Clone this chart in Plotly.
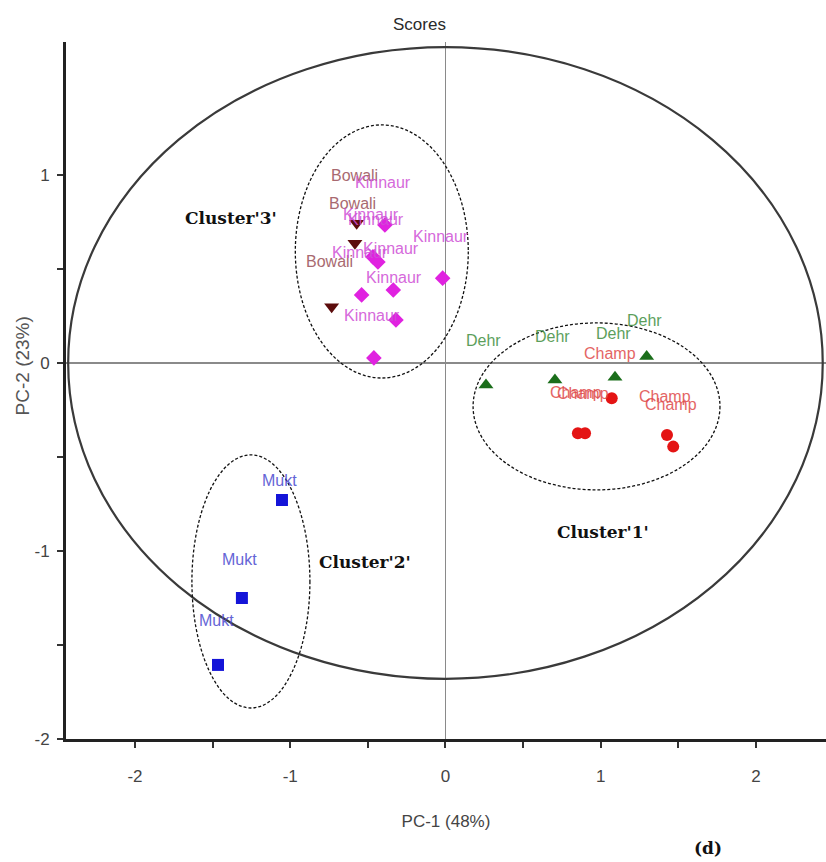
import plotly.graph_objects as go

# PCA score values (PC-1, PC-2) for each accession group
mukt_x = [-1.053, -1.311, -1.465]
mukt_y = [-0.729, -1.250, -1.606]

bowali_x = [-0.572, -0.583, -0.733]
bowali_y = [0.743, 0.637, 0.299]

kinnaur_x = [-0.390, -0.467, -0.435, -0.018, -0.540, -0.336, -0.319, -0.461]
kinnaur_y = [0.734, 0.564, 0.537, 0.451, 0.362, 0.388, 0.229, 0.027]

dehr_x = [0.261, 0.705, 1.092, 1.296]
dehr_y = [-0.117, -0.090, -0.076, 0.034]

champ_x = [1.071, 0.853, 0.899, 1.427, 1.467]
champ_y = [-0.188, -0.374, -0.374, -0.383, -0.445]

# Hotelling T2 ellipse and cluster outlines: centre and semi-axes in score units
hotelling_center = (0.0, 0.0)
hotelling_radii = (2.43, 1.68)
cluster_names = ["Cluster'1'", "Cluster'2'", "Cluster'3'"]
cluster_cx = [0.973, -1.253, -0.410]
cluster_cy = [-0.231, -1.162, 0.593]
cluster_rx = [0.795, 0.380, 0.557]
cluster_ry = [0.444, 0.673, 0.673]
# cluster caption anchors in score units
cluster_tx = [1.015, -0.52, -1.38]
cluster_ty = [-0.898, -1.059, 0.77]

x_ticks = [-2, -1.5, -1, -0.5, 0, 0.5, 1, 1.5, 2]
y_ticks = [-2, -1.5, -1, -0.5, 0, 0.5, 1]

# name, x, y, symbol, marker colour, label colour, marker size, label shift (px)
groups = [
    ("Mukt", mukt_x, mukt_y, "square", "#1414d8", "#4a4ad0", 12, [20, 38, 44]),
    ("Bowali", bowali_x, bowali_y, "triangle-down", "#5c0c0c", "#9a5058", 13, [48, 40, 45]),
    ("Kinnaur", kinnaur_x, kinnaur_y, "diamond", "#e022e0", "#cf4fd6", 12, [42] * 8),
    ("Dehr", dehr_x, dehr_y, "triangle-up", "#1b6e1b", "#3f8f3f", 13, [44, 43, 44, 36]),
    ("Champ", champ_x, champ_y, "circle", "#e41414", "#e04a4a", 12, [45, 41, 40, 38, 42]),
]

label_font = "Liberation Sans, Arial, sans-serif"

fig = go.Figure()
annotations = []
for name, xs, ys, sym, mcol, tcol, msize, shifts in groups:
    fig.add_trace(go.Scatter(
        x=xs, y=ys, mode="markers", name=name,
        marker=dict(symbol=sym, size=msize, color=mcol, line=dict(width=0)),
        showlegend=False, hoverinfo="x+y+name",
    ))
    for xv, yv, sh in zip(xs, ys, shifts):
        annotations.append(dict(
            x=xv, y=yv, xref="x", yref="y", text=name, showarrow=False,
            xshift=-2, yshift=sh, opacity=0.85,
            font=dict(family=label_font, size=16, color=tcol),
        ))

shapes = [dict(
    type="circle", xref="x", yref="y", layer="between",
    x0=hotelling_center[0] - hotelling_radii[0], x1=hotelling_center[0] + hotelling_radii[0],
    y0=hotelling_center[1] - hotelling_radii[1], y1=hotelling_center[1] + hotelling_radii[1],
    line=dict(color="#3a3a3a", width=2.2),
)]
for cx, cy, rx, ry in zip(cluster_cx, cluster_cy, cluster_rx, cluster_ry):
    shapes.append(dict(
        type="circle", xref="x", yref="y", layer="between",
        x0=cx - rx, x1=cx + rx, y0=cy - ry, y1=cy + ry,
        line=dict(color="#111111", width=1.3, dash="3px,2px"),
    ))

for name, tx, ty in zip(cluster_names, cluster_tx, cluster_ty):
    annotations.append(dict(
        x=tx, y=ty, xref="x", yref="y", text="<b>%s</b>" % name, showarrow=False,
        font=dict(family="DejaVu Serif, serif", size=17, color="#111111"),
    ))

# plot title above the frame
annotations.append(dict(
    x=0.4645, y=1.0244, xref="paper", yref="paper", text="Scores", showarrow=False,
    xanchor="center", yanchor="middle",
    font=dict(family=label_font, size=17, color="#2a2a2a"),
))
# vertical axis title
annotations.append(dict(
    x=-0.0579, y=0.536, xref="paper", yref="paper", text="PC-2 (23%)", showarrow=False,
    textangle=-90, xanchor="center", yanchor="middle",
    font=dict(family="Liberation Sans, Arial, sans-serif", size=19, color="#555555"),
))
# figure panel tag
annotations.append(dict(
    x=0.8447, y=-0.1564, xref="paper", yref="paper", text="<b>(d)</b>", showarrow=False,
    xanchor="center", yanchor="middle",
    font=dict(family="DejaVu Serif, serif", size=17, color="#111111"),
))

fig.update_layout(
    width=826, height=862,
    margin=dict(l=66, r=0, t=42, b=123),
    paper_bgcolor="white", plot_bgcolor="white",
    shapes=shapes,
    annotations=annotations,
    xaxis=dict(
        range=[-2.444, 2.451], tickvals=x_ticks,
        ticktext=[str(int(v)) if v == int(v) else "" for v in x_ticks],
        ticks="outside", ticklen=6, tickwidth=2, tickcolor="#333333",
        ticklabelstandoff=14,
        showline=True, linewidth=3, linecolor="#222222", mirror=False,
        showgrid=False, zeroline=True, zerolinecolor="#8a8a8a", zerolinewidth=1.2,
        tickfont=dict(family=label_font, size=17, color="#444444"),
        title=dict(text="PC-1 (48%)", standoff=30,
                   font=dict(family=label_font, size=17, color="#444444")),
    ),
    yaxis=dict(
        range=[-2.0, 1.707], tickvals=y_ticks,
        ticktext=[str(int(v)) if v == int(v) else "" for v in y_ticks],
        ticks="outside", ticklen=6, tickwidth=2, tickcolor="#333333",
        ticklabelstandoff=4,
        showline=True, linewidth=3, linecolor="#222222", mirror=False,
        showgrid=False, zeroline=True, zerolinecolor="#8a8a8a", zerolinewidth=1.8,
        tickfont=dict(family=label_font, size=17, color="#444444"),
    ),
)

fig.write_html("out.html")
